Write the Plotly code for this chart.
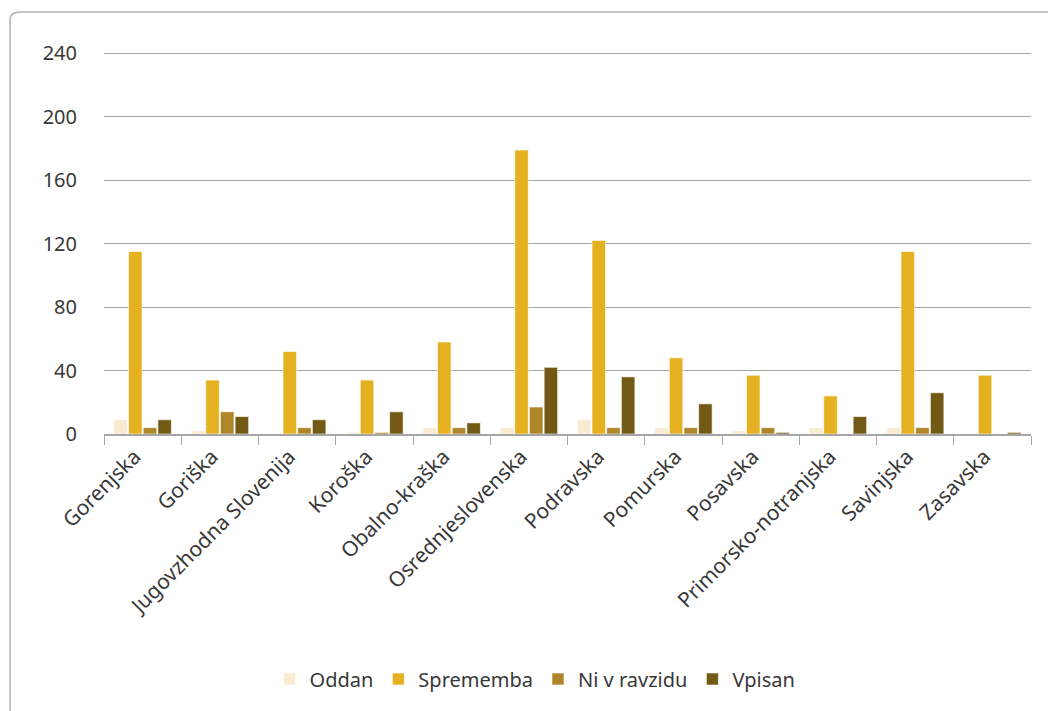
import plotly.graph_objects as go

regije = ['Gorenjska', 'Goriška', 'Jugovzhodna Slovenija', 'Koroška', 'Obalno-kraška',
          'Osrednjeslovenska', 'Podravska', 'Pomurska', 'Posavska', 'Primorsko-notranjska',
          'Savinjska', 'Zasavska']

oddan = [9, 2, 0, 1, 4, 4, 9, 4, 2, 4, 4, 0]
sprememba = [115, 34, 52, 34, 58, 179, 122, 48, 37, 24, 115, 37]
ni_v_razvidu = [4, 14, 4, 1, 4, 17, 4, 4, 4, 0, 4, 0]
vpisan = [9, 11, 9, 14, 7, 42, 36, 19, 1, 11, 26, 1]

y_ticks = [0, 40, 80, 120, 160, 200, 240]

series = [
    ('Oddan', oddan, '#FAEAD1'),
    ('Sprememba', sprememba, '#E6B121'),
    ('Ni v ravzidu', ni_v_razvidu, '#AF852A'),
    ('Vpisan', vpisan, '#735A14'),
]

fig = go.Figure()
for name, vals, col in series:
    fig.add_trace(go.Bar(
        x=regije, y=vals, name=name,
        marker=dict(color=col, line=dict(color='rgba(255,255,255,0.6)', width=1)),
    ))

# page has an 8px body margin, so margins are shifted by 8
fig.update_layout(
    width=1056, height=711,
    paper_bgcolor='white', plot_bgcolor='white',
    font=dict(family='Noto Sans', size=20, color='#383838'),
    margin=dict(l=96, r=33, t=42, b=285),
    barmode='group', bargap=0.24, bargroupgap=0.08,
    legend=dict(orientation='h', x=0.465, xanchor='center', y=-0.638, yanchor='middle',
                font=dict(size=20, color='#383838'), itemwidth=30, traceorder='normal'),
)

fig.update_xaxes(
    tickangle=-45, tickson='boundaries', ticks='outside', ticklen=9,
    tickcolor='#a6a6a6', showline=True, linecolor='#a6a6a6', linewidth=2,
    showgrid=False, tickfont=dict(size=21, color='#383838'), automargin=False,
    ticklabelshift=-8,
)
fig.update_yaxes(
    range=[0, 242], tickvals=y_ticks, showgrid=True, gridcolor='#a6a6a6', gridwidth=1,
    zeroline=False, ticks='', ticklabelstandoff=26, tickfont=dict(size=20, color='#383838'),
    automargin=False,
)

# card border with rounded top-left corner
x0 = (10 - 104) / 927
y_top = (434 - 12) / 384
r = 0.012
fig.add_shape(
    type='path', xref='paper', yref='paper',
    path=f'M {x0} -1 L {x0} {y_top - 0.02} Q {x0} {y_top} {x0 + r} {y_top} L 1.1 {y_top}',
    line=dict(color='#b3b3b3', width=1.5),
)

fig.write_html('out.html')
